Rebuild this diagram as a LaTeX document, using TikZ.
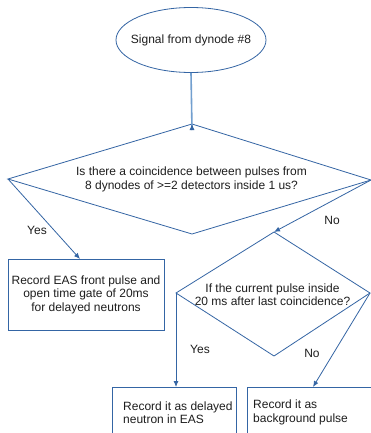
\documentclass[tikz,border=0pt]{standalone}
\usepackage{fontspec}
\setmainfont{Liberation Sans}
\usetikzlibrary{shapes.geometric,arrows.meta}
\definecolor{lineblue}{RGB}{52,101,164}
\definecolor{lightblue}{RGB}{114,159,207}
\definecolor{txt}{RGB}{30,30,30}
\begin{document}
\begin{tikzpicture}[x=1pt,y=-1pt,
  every node/.style={font=\fontsize{12}{13.5}\selectfont, text=txt},
  shapeline/.style={draw=lineblue, line width=0.8pt},
  conn/.style={draw=lineblue, line width=0.8pt, -{Latex[length=6pt,width=5pt]}},
  boxnode/.style={shapeline, rectangle, inner sep=0pt},
  lbl/.style={inner sep=0pt}
]
\useasboundingbox (0,0) rectangle (371,433);
\clip (0,0) rectangle (371,433);
\fill[white] (0,0) rectangle (371,433);

% start ellipse
\node[shapeline, ellipse, minimum width=150pt, minimum height=65pt, inner sep=0pt] (start) at (191,40) {};
\node[inner sep=0pt] (starttxt) at (191,40) {Signal from dynode \#8};

% decision 1
\coordinate (d1t) at (192,124);
\coordinate (d1l) at (8,179);
\coordinate (d1r) at (371,180);
\coordinate (d1b) at (192,234);
\draw[shapeline, line join=miter] (d1t) -- (d1r) -- (d1b) -- (d1l) -- cycle;
\node[align=center, inner sep=0pt] (d1txt) at (191.5,179.5) {Is there a coincidence between pulses from\\ 8 dynodes of >=2 detectors inside 1 us?};

% decision 2
\coordinate (d2t) at (274,232);
\coordinate (d2l) at (176,293);
\coordinate (d2r) at (370,293);
\coordinate (d2b) at (274,356);
\draw[shapeline, line join=miter] (d2t) -- (d2r) -- (d2b) -- (d2l) -- cycle;
\node[align=center, inner sep=0pt] (d2txt) at (272.5,294.5) {If the current pulse inside\\20 ms after last coincidence?};

% box 1
\node[boxnode, minimum width=156pt, minimum height=71pt, align=center] (box1) at (86,294.5) {Record EAS front pulse and\\open time gate of 20ms\\for delayed neutrons};

% box 2
\node[boxnode, minimum width=124pt, minimum height=53pt] (box2) at (174,413.5) {};
\node[anchor=west, align=left, inner sep=0pt] (box2txt) at (123,412.5) {Record it as delayed\\neutron in EAS};

% box 3
\node[boxnode, minimum width=130pt, minimum height=53pt] (box3) at (312,413.5) {};
\node[anchor=west, align=left, inner sep=0pt] (box3txt) at (253,412.5) {Record it as\\background pulse};

% connectors
\draw[draw=lightblue, line width=1.6pt] (start.south) -- ([yshift=-6pt]d1t);
\draw[draw=lineblue, line width=0.8pt, -{Latex[length=6pt,width=5pt]}] ([yshift=-5pt]d1t) -- (d1t);
\coordinate (b1in) at (80,259);
\draw[conn] (d1l) -- (b1in);
\draw[conn] (d1r) -- (d2t);
\coordinate (b2in) at (176,387);
\draw[conn] (d2l) -- (b2in);
\coordinate (b3in) at (313,387);
\draw[conn] (d2r) -- (b3in);

% labels
\node[lbl] (yes1) at (37,230) {Yes};
\node[lbl] (no1) at (332,220) {No};
\node[lbl] (yes2) at (200,349) {Yes};
\node[lbl] (no2) at (312,353) {No};
\end{tikzpicture}
\end{document}
